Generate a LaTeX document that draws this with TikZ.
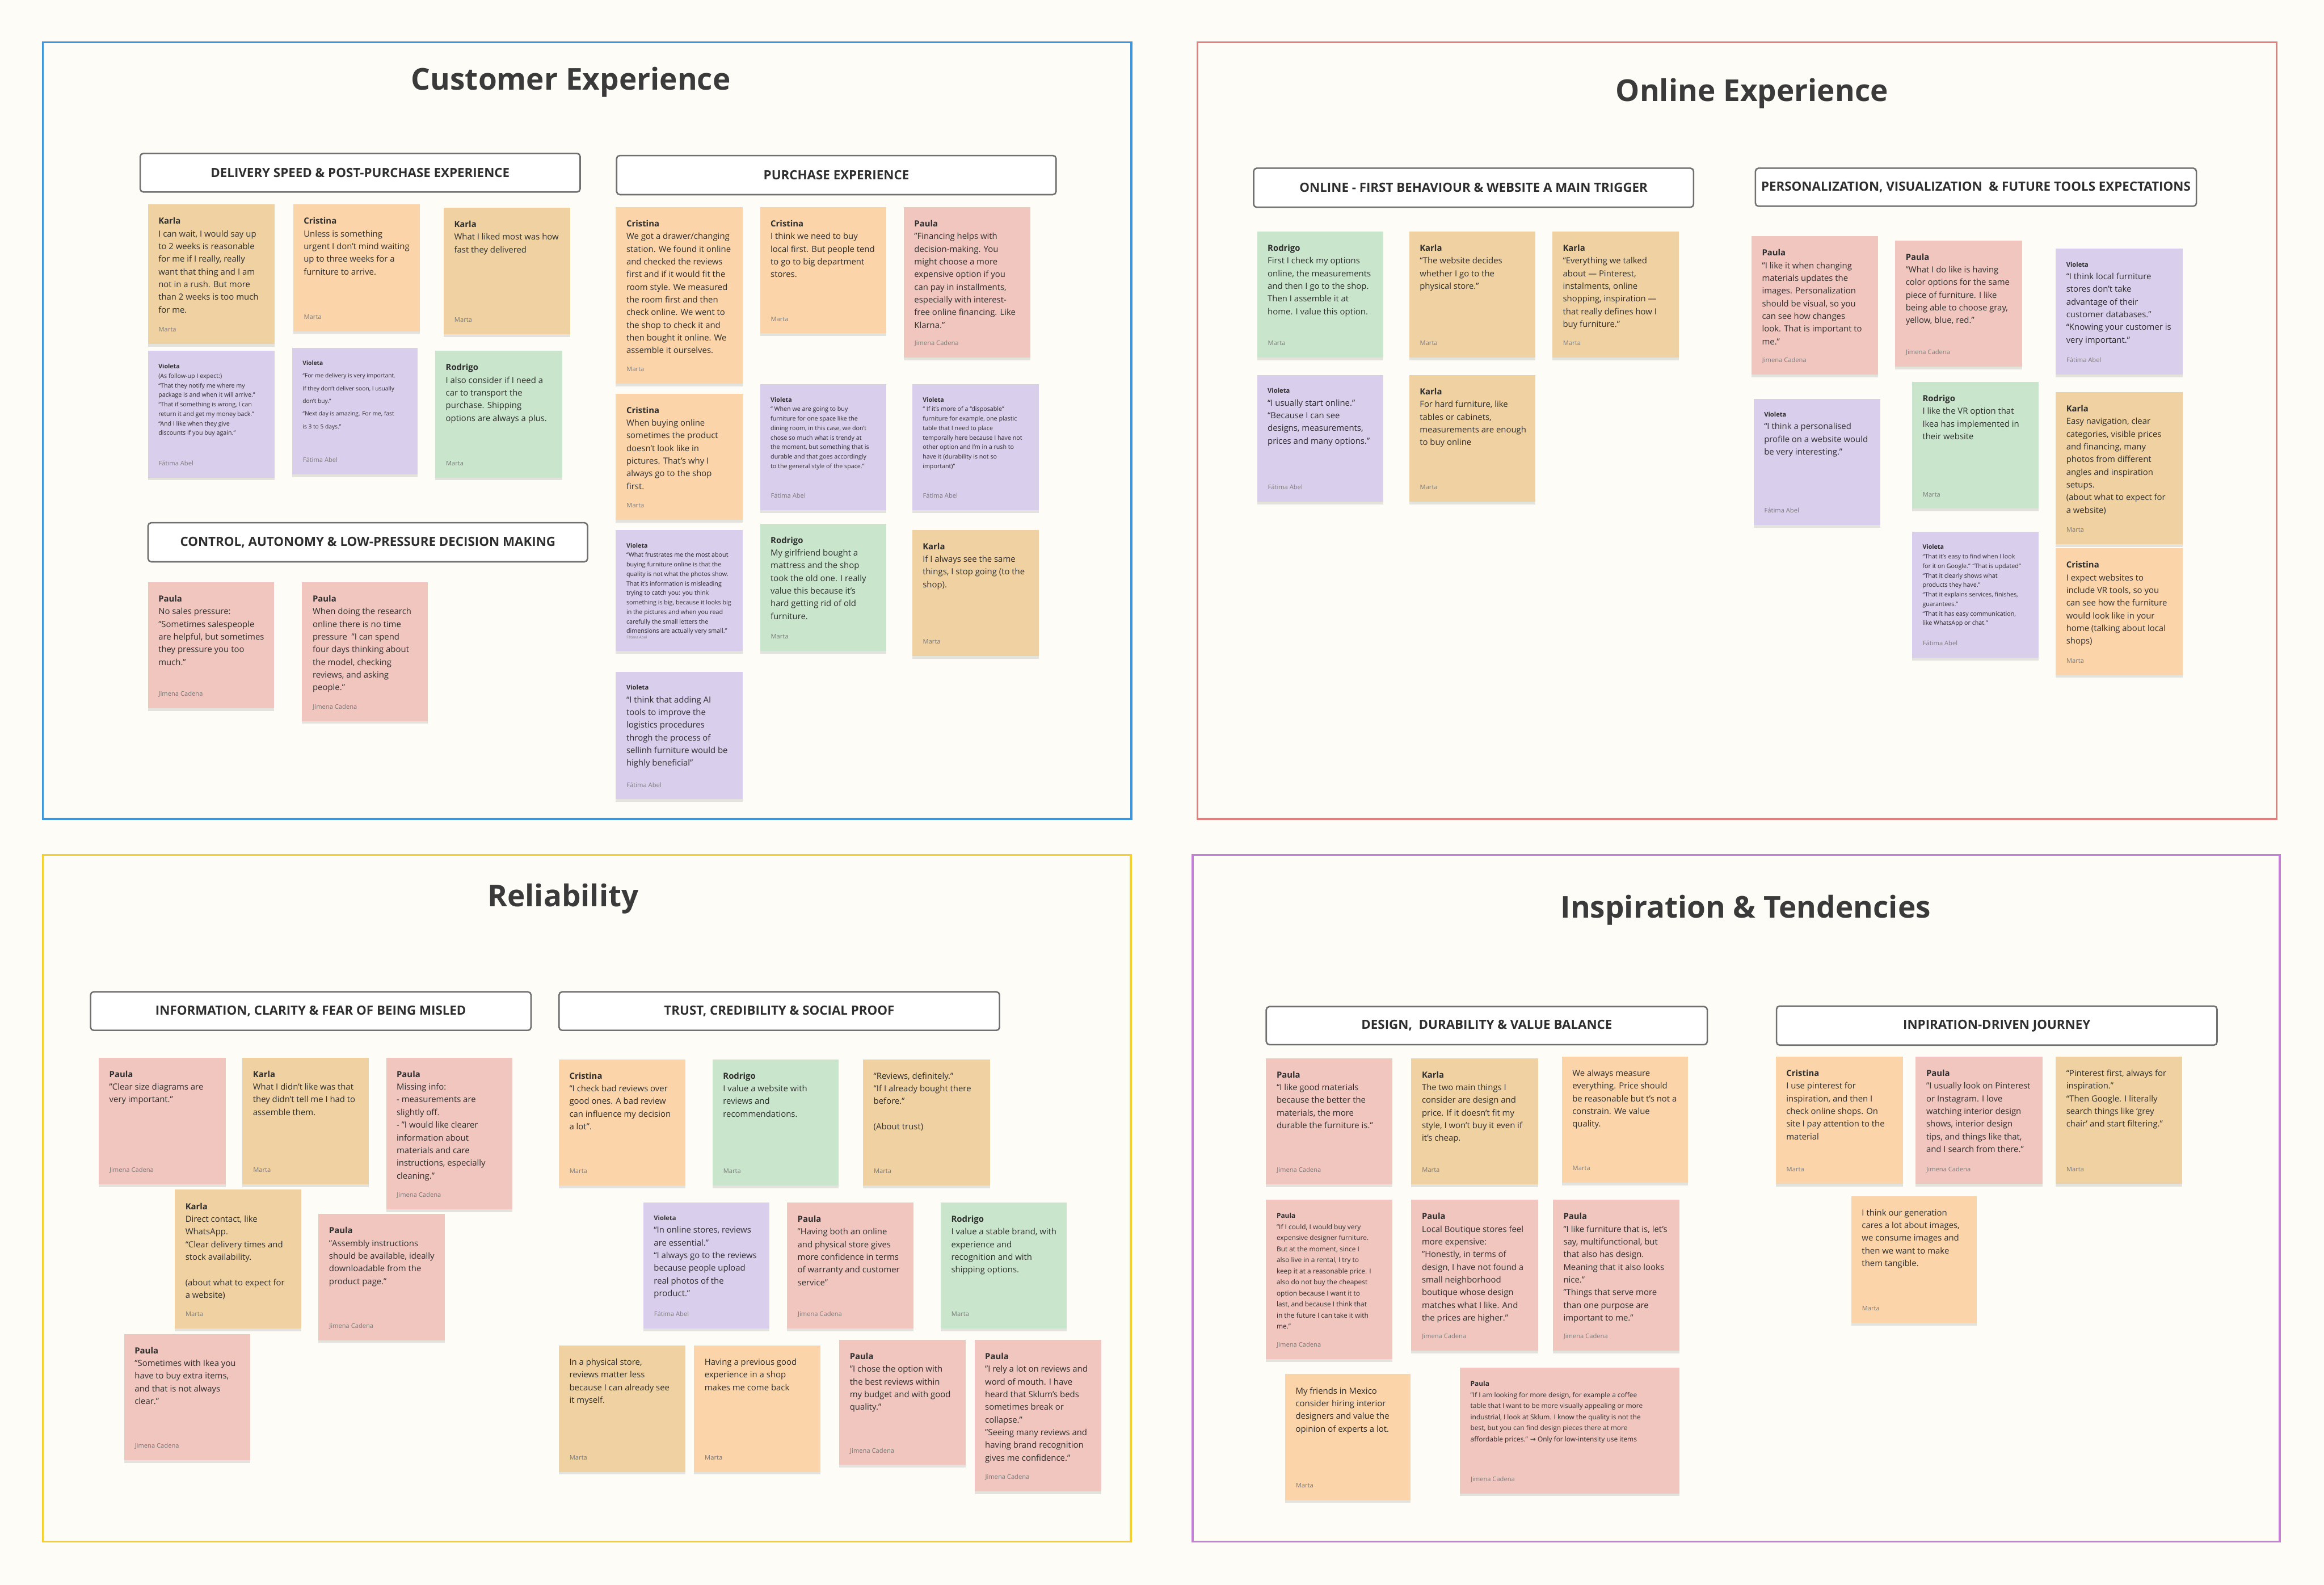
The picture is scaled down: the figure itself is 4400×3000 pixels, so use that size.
\documentclass[tikz,border=0pt]{standalone}
\usepackage{fontspec}
\setmainfont{Open Sans}
\newfontfamily\arrowfont{DejaVu Sans}
\usetikzlibrary{shadows}
\definecolor{bg}{HTML}{FEFCF7}
\definecolor{cBlue}{HTML}{3D96DC}
\definecolor{cRed}{HTML}{E47F7C}
\definecolor{cYellow}{HTML}{F6D02A}
\definecolor{cPurple}{HTML}{C57FD6}
\definecolor{nKarla}{HTML}{F0D2A2}
\definecolor{nCris}{HTML}{FCD4A9}
\definecolor{nPaula}{HTML}{F0C6BF}
\definecolor{nViol}{HTML}{D9CEEB}
\definecolor{nRod}{HTML}{C9E6CC}
\definecolor{ink}{HTML}{2E2E2E}
\definecolor{foot}{HTML}{7C7C7C}
\definecolor{hdrline}{HTML}{707070}
\definecolor{titleink}{HTML}{3A3A3A}
\tikzset{
 notebox/.style={anchor=north west, inner sep=0pt, outer sep=0pt, draw=none,
   drop shadow={shadow xshift=0pt, shadow yshift=-2.5pt, opacity=0.10, fill=black}},
 notetext/.style={anchor=north west, inner sep=0pt, outer sep=0pt, align=left, text=ink},
 nbig/.style={font=\fontsize{8}{12}\selectfont},
 nsmall/.style={font=\fontsize{5.75}{9}\selectfont},
 nsmallw/.style={font=\fontsize{5.5}{12}\selectfont},
 nmid/.style={font=\fontsize{6.4}{10.5}\selectfont},
 notefoot/.style={anchor=base west, inner sep=0pt, text=foot, font=\fontsize{6}{7}\selectfont},
 hdrbox/.style={anchor=north west, draw=hdrline, line width=1.4pt, rounded corners=3pt, fill=white,
   inner sep=0pt, text=ink, font=\bfseries\fontsize{12}{14}\selectfont},
 frameline/.style={line width=1.8pt},
 ptitle/.style={anchor=base, inner sep=0pt, text=titleink, font=\bfseries\fontsize{28.5}{34}\selectfont},
}
% #1 name #2 x #3 y #4 w #5 h #6 colour #7 text style #8 body #9 footer
\newcommand\mknote[9]{%
 \node[notebox, fill=#6, minimum width=#4*0.5pt, minimum height=#5*0.5pt] (#1) at (#2,#3) {};
 \node[notetext, #7] (#1-t) at ([shift={(20,25)}]#1.north west) {#8};
 \node[notefoot] (#1-f) at ([shift={(20,-23)}]#1.south west) {#9};
}
\newcommand\mkhdr[6]{%
 \node[hdrbox, minimum width=#4*0.5pt, minimum height=#5*0.5pt] (#1) at (#2,#3) {#6};
}
\newcommand\vauth{{\fontsize{6}{7}\selectfont\bfseries Violeta}}
\begin{document}
\begin{tikzpicture}[x=0.5pt,y=-0.5pt]
\useasboundingbox (0,0) rectangle (4400,3000);
\fill[bg] (0,0) rectangle (4400,3000);
% frames
\draw[frameline, draw=cBlue] (81,80) rectangle (2142,1550);
\draw[frameline, draw=cRed] (2267,80) rectangle (4310,1550);
\draw[frameline, draw=cYellow] (81,1618) rectangle (2141,2918);
\draw[frameline, draw=cPurple] (2258,1618) rectangle (4316,2918);
% titles
\node[ptitle] (t-ce) at (1081,170) {Customer Experience};
\node[ptitle] (t-oe) at (3317,192) {Online Experience};
\node[ptitle] (t-rel) at (1066,1716) {Reliability};
\node[ptitle] (t-ins) at (3305,1737) {Inspiration \& Tendencies};
% headers
\mkhdr{h1}{264}{289}{833}{73}{DELIVERY SPEED \& POST-PURCHASE EXPERIENCE}
\mkhdr{h2}{279}{988}{832}{74}{CONTROL, AUTONOMY \& LOW-PRESSURE DECISION MAKING}
\mkhdr{h3}{1166}{293}{832}{74}{PURCHASE EXPERIENCE}
\mkhdr{h4}{2372}{317}{833}{74}{ONLINE - FIRST BEHAVIOUR \& WEBSITE A MAIN TRIGGER}
\mkhdr{h5}{3322}{317}{835}{72}{PERSONALIZATION, VISUALIZATION\ \ \& FUTURE TOOLS EXPECTATIONS}
\mkhdr{h6}{170}{1876}{834}{73}{INFORMATION, CLARITY \& FEAR OF BEING MISLED}
\mkhdr{h7}{1057}{1876}{834}{73}{TRUST, CREDIBILITY \& SOCIAL PROOF}
\mkhdr{h8}{2396}{1904}{835}{72}{DESIGN,\ \ DURABILITY \& VALUE BALANCE}
\mkhdr{h9}{3362}{1903}{834}{74}{INPIRATION-DRIVEN JOURNEY}
% ---------------- Customer Experience
\mknote{k1}{280}{387}{240}{264}{nKarla}{nbig}{\textbf{Karla}\\I can wait, I would say up\\to 2 weeks is reasonable\\for me if I really, really\\want that thing and I am\\not in a rush. But more\\than 2 weeks is too much\\for me.}{Marta}
\mknote{c1}{555}{387}{240}{240}{nCris}{nbig}{\textbf{Cristina}\\Unless is something\\urgent I don’t mind waiting\\up to three weeks for a\\furniture to arrive.}{Marta}
\mknote{k2}{840}{393}{240}{240}{nKarla}{nbig}{\textbf{Karla}\\What I liked most was how\\fast they delivered}{Marta}
\mknote{v1}{280}{664}{240}{240}{nViol}{nsmall}{\textbf{Violeta}\\(As follow-up I expect:)\\“That they notify me where my\\package is and when it will arrive.”\\“That if something is wrong, I can\\return it and get my money back.”\\“And I like when they give\\discounts if you buy again.”}{Fátima Abel}
\mknote{v2}{553}{658}{238}{240}{nViol}{nsmallw}{\textbf{Violeta}\\“For me delivery is very important.\\If they don’t deliver soon, I usually\\don’t buy.”\\“Next day is amazing. For me, fast\\is 3 to 5 days.”}{Fátima Abel}
\mknote{r1}{824}{664}{240}{240}{nRod}{nbig}{\textbf{Rodrigo}\\I also consider if I need a\\car to transport the\\purchase. Shipping\\options are always a plus.}{Marta}
\mknote{p1}{280}{1102}{239}{239}{nPaula}{nbig}{\textbf{Paula}\\No sales pressure:\\"Sometimes salespeople\\are helpful, but sometimes\\they pressure you too\\much."}{Jimena Cadena}
\mknote{p2}{572}{1102}{238}{263}{nPaula}{nbig}{\textbf{Paula}\\When doing the research\\online there is no time\\pressure\ \ "I can spend\\four days thinking about\\the model, checking\\reviews, and asking\\people."}{Jimena Cadena}
\mknote{c2}{1166}{392}{240}{334}{nCris}{nbig}{\textbf{Cristina}\\We got a drawer/changing\\station. We found it online\\and checked the reviews\\first and if it would fit the\\room style. We measured\\the room first and then\\check online. We went to\\the shop to check it and\\then bought it online. We\\assemble it ourselves.}{Marta}
\mknote{c3}{1439}{392}{239}{239}{nCris}{nbig}{\textbf{Cristina}\\I think we need to buy\\local first. But people tend\\to go to big department\\stores.}{Marta}
\mknote{p3}{1711}{392}{240}{285}{nPaula}{nbig}{\textbf{Paula}\\"Financing helps with\\decision-making. You\\might choose a more\\expensive option if you\\can pay in installments,\\especially with interest-\\free online financing. Like\\Klarna."}{Jimena Cadena}
\mknote{c4}{1166}{745}{240}{239}{nCris}{nbig}{\textbf{Cristina}\\When buying online\\sometimes the product\\doesn’t look like in\\pictures. That’s why I\\always go to the shop\\first.}{Marta}
\mknote{v3}{1439}{727}{239}{239}{nViol}{nsmall}{\textbf{Violeta}\\“ When we are going to buy\\furniture for one space like the\\dining room, in this case, we don’t\\chose so much what is trendy at\\the moment, but something that is\\durable and that goes accordingly\\to the general style of the space.”}{Fátima Abel}
\mknote{v4}{1727}{727}{240}{239}{nViol}{nsmall}{\textbf{Violeta}\\“ If it’s more of a “disposable”\\furniture for example, one plastic\\table that I need to place\\temporally here because I have not\\other option and I’m in a rush to\\have it (durability is not so\\important)”}{Fátima Abel}
\mknote{v5}{1166}{1003}{240}{229}{nViol}{nsmall}{\textbf{Violeta}\\“What frustrates me the most about\\buying furniture online is that the\\quality is not what the photos show.\\That it’s information is misleading\\trying to catch you: you think\\something is big, because it looks big\\in the pictures and when you read\\carefully the small letters the\\dimensions are actually very small.”}{\fontsize{3.5}{4}\selectfont Fátima Abel}
\mknote{r2}{1439}{991}{239}{241}{nRod}{nbig}{\textbf{Rodrigo}\\My girlfriend bought a\\mattress and the shop\\took the old one. I really\\value this because it’s\\hard getting rid of old\\furniture.}{Marta}
\mknote{k3}{1727}{1003}{240}{239}{nKarla}{nbig}{\textbf{Karla}\\If I always see the same\\things, I stop going (to the\\shop).}{Marta}
\mknote{v6}{1166}{1272}{240}{241}{nViol}{nbig}{\vauth\\“I think that adding AI\\tools to improve the\\logistics procedures\\throgh the process of\\sellinh furniture would be\\highly beneficial”}{Fátima Abel}
% ---------------- Online Experience
\mknote{r3}{2380}{438}{239}{239}{nRod}{nbig}{\textbf{Rodrigo}\\First I check my options\\online, the measurements\\and then I go to the shop.\\Then I assemble it at\\home. I value this option.}{Marta}
\mknote{k4}{2668}{438}{239}{239}{nKarla}{nbig}{\textbf{Karla}\\“The website decides\\whether I go to the\\physical store.”}{Marta}
\mknote{k5}{2939}{438}{240}{239}{nKarla}{nbig}{\textbf{Karla}\\“Everything we talked\\about — Pinterest,\\instalments, online\\shopping, inspiration —\\that really defines how I\\buy furniture.”}{Marta}
\mknote{v7}{2380}{710}{239}{240}{nViol}{nbig}{\vauth\\“I usually start online.”\\“Because I can see\\designs, measurements,\\prices and many options.”}{Fátima Abel}
\mknote{k6}{2668}{710}{239}{240}{nKarla}{nbig}{\textbf{Karla}\\For hard furniture, like\\tables or cabinets,\\measurements are enough\\to buy online}{Marta}
\mknote{p4}{3316}{447}{240}{262}{nPaula}{nbig}{\textbf{Paula}\\"I like it when changing\\materials updates the\\images. Personalization\\should be visual, so you\\can see how changes\\look. That is important to\\me."}{Jimena Cadena}
\mknote{p5}{3588}{455}{240}{239}{nPaula}{nbig}{\textbf{Paula}\\"What I do like is having\\color options for the same\\piece of furniture. I like\\being able to choose gray,\\yellow, blue, red."}{Jimena Cadena}
\mknote{v8}{3892}{471}{240}{238}{nViol}{nbig}{\vauth\\“I think local furniture\\stores don’t take\\advantage of their\\customer databases.”\\“Knowing your customer is\\very important.”}{Fátima Abel}
\mknote{v9}{3320}{755}{240}{239}{nViol}{nbig}{\vauth\\“I think a personalised\\profile on a website would\\be very interesting.”}{Fátima Abel}
\mknote{r4}{3620}{723}{240}{240}{nRod}{nbig}{\textbf{Rodrigo}\\I like the VR option that\\Ikea has implemented in\\their website}{Marta}
\mknote{k7}{3892}{742}{240}{288}{nKarla}{nbig}{\textbf{Karla}\\Easy navigation, clear\\categories, visible prices\\and financing, many\\photos from different\\angles and inspiration\\setups.\\(about what to expect for\\a website)}{Marta}
\mknote{v10}{3620}{1006}{240}{239}{nViol}{nsmall}{\textbf{Violeta}\\“That it’s easy to find when I look\\for it on Google.” “That is updated”\\“That it clearly shows what\\products they have.”\\“That it explains services, finishes,\\guarantees.”\\“That it has easy communication,\\like WhatsApp or chat.”}{Fátima Abel}
\mknote{c5}{3892}{1038}{240}{240}{nCris}{nbig}{\textbf{Cristina}\\I expect websites to\\include VR tools, so you\\can see how the furniture\\would look like in your\\home (talking about local\\shops)}{Marta}
% ---------------- Reliability
\mknote{p6}{187}{2002}{240}{240}{nPaula}{nbig}{\textbf{Paula}\\"Clear size diagrams are\\very important."}{Jimena Cadena}
\mknote{k8}{459}{2002}{239}{240}{nKarla}{nbig}{\textbf{Karla}\\What I didn’t like was that\\they didn’t tell me I had to\\assemble them.}{Marta}
\mknote{p7}{731}{2002}{239}{287}{nPaula}{nbig}{\textbf{Paula}\\Missing info:\\- measurements are\\slightly off.\\- "I would like clearer\\information about\\materials and care\\instructions, especially\\cleaning."}{Jimena Cadena}
\mknote{k9}{331}{2252}{239}{263}{nKarla}{nbig}{\textbf{Karla}\\Direct contact, like\\WhatsApp.\\“Clear delivery times and\\stock availability.\\\mbox{}\\(about what to expect for\\a website)}{Marta}
\mknote{p8}{603}{2298}{239}{239}{nPaula}{nbig}{\textbf{Paula}\\"Assembly instructions\\should be available, ideally\\downloadable from the\\product page."}{Jimena Cadena}
\mknote{p9}{235}{2525}{239}{239}{nPaula}{nbig}{\textbf{Paula}\\"Sometimes with Ikea you\\have to buy extra items,\\and that is not always\\clear."}{Jimena Cadena}
\mknote{c6}{1058}{2005}{240}{239}{nCris}{nbig}{\textbf{Cristina}\\“I check bad reviews over\\good ones. A bad review\\can influence my decision\\a lot”.}{Marta}
\mknote{r5}{1349}{2005}{239}{239}{nRod}{nbig}{\textbf{Rodrigo}\\I value a website with\\reviews and\\recommendations.}{Marta}
\mknote{b1}{1634}{2005}{240}{239}{nKarla}{nbig}{“Reviews, definitely.”\\“If I already bought there\\before.”\\\mbox{}\\(About trust)}{Marta}
\mknote{v11}{1218}{2276}{239}{239}{nViol}{nbig}{\vauth\\“In online stores, reviews\\are essential.”\\“I always go to the reviews\\because people upload\\real photos of the\\product.”}{Fátima Abel}
\mknote{p10}{1490}{2276}{240}{239}{nPaula}{nbig}{\textbf{Paula}\\"Having both an online\\and physical store gives\\more confidence in terms\\of warranty and customer\\service"}{Jimena Cadena}
\mknote{r6}{1781}{2276}{239}{239}{nRod}{nbig}{\textbf{Rodrigo}\\I value a stable brand, with\\experience and\\recognition and with\\shipping options.}{Marta}
\mknote{b2}{1058}{2547}{240}{239}{nKarla}{nbig}{In a physical store,\\reviews matter less\\because I can already see\\it myself.}{Marta}
\mknote{o1}{1314}{2547}{239}{239}{nCris}{nbig}{Having a previous good\\experience in a shop\\makes me come back}{Marta}
\mknote{p11}{1589}{2536}{239}{237}{nPaula}{nbig}{\textbf{Paula}\\"I chose the option with\\the best reviews within\\my budget and with good\\quality."}{Jimena Cadena}
\mknote{p12}{1845}{2536}{240}{287}{nPaula}{nbig}{\textbf{Paula}\\"I rely a lot on reviews and\\word of mouth. I have\\heard that Sklum’s beds\\sometimes break or\\collapse."\\"Seeing many reviews and\\having brand recognition\\gives me confidence."}{Jimena Cadena}
% ---------------- Inspiration & Tendencies
\mknote{p13}{2397}{2003}{239}{239}{nPaula}{nbig}{\textbf{Paula}\\“I like good materials\\because the better the\\materials, the more\\durable the furniture is."}{Jimena Cadena}
\mknote{k10}{2672}{2003}{240}{239}{nKarla}{nbig}{\textbf{Karla}\\The two main things I\\consider are design and\\price. If it doesn’t fit my\\style, I won’t buy it even if\\it’s cheap.}{Marta}
\mknote{o2}{2957}{2000}{239}{239}{nCris}{nbig}{We always measure\\everything. Price should\\be reasonable but t’s not a\\constrain. We value\\quality.}{Marta}
\mknote{p14}{2397}{2271}{239}{302}{nPaula}{nmid}{\textbf{Paula}\\"If I could, I would buy very\\expensive designer furniture.\\But at the moment, since I\\also live in a rental, I try to\\keep it at a reasonable price. I\\also do not buy the cheapest\\option because I want it to\\last, and because I think that\\in the future I can take it with\\me."}{Jimena Cadena}
\mknote{p15}{2672}{2271}{240}{286}{nPaula}{nbig}{\textbf{Paula}\\Local Boutique stores feel\\more expensive:\\"Honestly, in terms of\\design, I have not found a\\small neighborhood\\boutique whose design\\matches what I like. And\\the prices are higher.”}{Jimena Cadena}
\mknote{p16}{2940}{2271}{240}{286}{nPaula}{nbig}{\textbf{Paula}\\"I like furniture that is, let's\\say, multifunctional, but\\that also has design.\\Meaning that it also looks\\nice."\\"Things that serve more\\than one purpose are\\important to me."}{Jimena Cadena}
\mknote{o3}{2433}{2601}{238}{238}{nCris}{nbig}{My friends in Mexico\\consider hiring interior\\designers and value the\\opinion of experts a lot.}{Marta}
\mknote{p17}{2764}{2589}{416}{238}{nPaula}{nmid}{\textbf{Paula}\\"If I am looking for more design, for example a coffee\\table that I want to be more visually appealing or more\\industrial, I look at Sklum. I know the quality is not the\\best, but you can find design pieces there at more\\affordable prices.” {\arrowfont →} Only for low-intensity use items}{Jimena Cadena}
\mknote{c7}{3362}{2000}{241}{241}{nCris}{nbig}{\textbf{Cristina}\\I use pinterest for\\inspiration, and then I\\check online shops. On\\site I pay attention to the\\material}{Marta}
\mknote{p18}{3627}{2000}{240}{241}{nPaula}{nbig}{\textbf{Paula}\\"I usually look on Pinterest\\or Instagram. I love\\watching interior design\\shows, interior design\\tips, and things like that,\\and I search from there."}{Jimena Cadena}
\mknote{b3}{3892}{2000}{239}{241}{nKarla}{nbig}{“Pinterest first, always for\\inspiration.”\\“Then Google. I literally\\search things like ‘grey\\chair’ and start filtering.”}{Marta}
\mknote{o4}{3505}{2264}{238}{240}{nCris}{nbig}{I think our generation\\cares a lot about images,\\we consume images and\\then we want to make\\them tangible.}{Marta}
\end{tikzpicture}
\end{document}
